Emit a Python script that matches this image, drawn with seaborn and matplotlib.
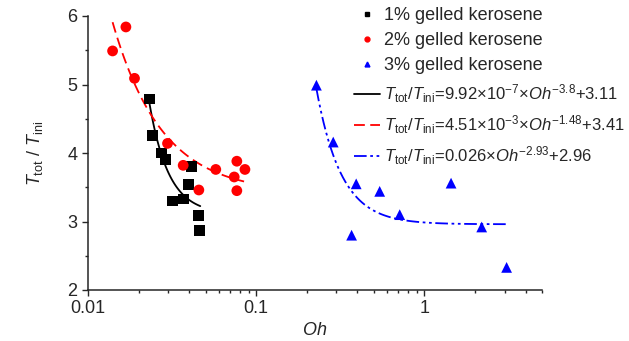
import numpy as np
import pandas as pd
import matplotlib.pyplot as plt
import seaborn as sns

# measured points
oh_1 = [0.0232, 0.0243, 0.0273, 0.0290, 0.0318, 0.0369, 0.0414, 0.0397, 0.0452, 0.0462]
ratio_1 = [4.79, 4.26, 4.00, 3.91, 3.30, 3.33, 3.80, 3.54, 3.09, 2.87]

oh_2 = [0.0140, 0.0168, 0.0189, 0.0297, 0.0368, 0.0456, 0.0575, 0.0767, 0.0740, 0.0857, 0.0767]
ratio_2 = [5.49, 5.84, 5.09, 4.14, 3.82, 3.46, 3.76, 3.88, 3.65, 3.76, 3.45]

oh_3 = [0.228, 0.287, 0.369, 0.393, 0.542, 0.713, 1.44, 2.19, 3.08]
ratio_3 = [4.99, 4.16, 2.80, 3.55, 3.44, 3.10, 3.56, 2.92, 2.33]

# fit coefficients from the legend: a * Oh^b + c, drawn over range lo..hi
fit_a = [9.92e-7, 4.51e-3, 0.026]
fit_b = [-3.8, -1.48, -2.93]
fit_c = [3.11, 3.41, 2.96]
fit_lo = [0.0232, 0.0140, 0.228]
fit_hi = [0.0465, 0.0847, 3.08]

labels_pts = ['1% gelled kerosene', '2% gelled kerosene', '3% gelled kerosene']
labels_fit = [r'$T_{\rm tot}/T_{\rm ini}$=9.92$\times$10$^{-7}$$\times$$Oh^{-3.8}$+3.11',
              r'$T_{\rm tot}/T_{\rm ini}$=4.51$\times$10$^{-3}$$\times$$Oh^{-1.48}$+3.41',
              r'$T_{\rm tot}/T_{\rm ini}$=0.026$\times$$Oh^{-2.93}$+2.96']
colors = ['black', 'red', 'blue']
markers = ['s', 'o', '^']
dashes = [(None, None), (6, 3), (7, 2, 1.5, 2, 1.5, 2)]

sns.set_style('ticks')
plt.rcParams['font.family'] = ['Liberation Sans', 'DejaVu Sans']
plt.rcParams['mathtext.fontset'] = 'custom'
plt.rcParams['mathtext.rm'] = 'Liberation Sans'
plt.rcParams['mathtext.it'] = 'Liberation Sans:italic'
plt.rcParams['mathtext.bf'] = 'Liberation Sans:bold'

fig = plt.figure(figsize=(6.29, 3.41), dpi=100)
ax = fig.add_axes([88 / 629, 51 / 341, 454 / 629, 274 / 341])

pts = [(oh_1, ratio_1), (oh_2, ratio_2), (oh_3, ratio_3)]
pt_handles = []
for (xs, ys), col, mk in zip(pts, colors, markers):
    df = pd.DataFrame({'Oh': xs, 'ratio': ys})
    sns.scatterplot(data=df, x='Oh', y='ratio', color=col, marker=mk, s=60,
                    edgecolor='none', ax=ax, zorder=3)
    pt_handles.append(plt.Line2D([], [], color=col, marker=mk, linestyle='none',
                                 markersize=3.5))

line_handles = []
for i in range(3):
    xs = np.geomspace(fit_lo[i], fit_hi[i], 80)
    df = pd.DataFrame({'Oh': xs, 'ratio': fit_a[i] * xs ** fit_b[i] + fit_c[i]})
    sns.lineplot(data=df, x='Oh', y='ratio', color=colors[i], linewidth=1.3, ax=ax)
    ln = ax.get_lines()[-1]
    if dashes[i][0] is not None:
        ln.set_dashes(dashes[i])
    h = plt.Line2D([], [], color=colors[i], linewidth=1.3)
    if dashes[i][0] is not None:
        h.set_dashes(dashes[i])
    line_handles.append(h)

ax.set_xscale('log')
ax.set_xlim(0.01, 5)
ax.set_ylim(2, 6)
ax.set_yticks([2, 3, 4, 5, 6])
ax.set_yticks(np.arange(2.5, 6, 1), minor=True)
ax.set_xticks([0.01, 0.1, 1])
ax.set_xticklabels(['0.01', '0.1', '1'])
ax.tick_params(axis='both', which='major', labelsize=13, length=4, width=1, direction='out')
ax.tick_params(axis='both', which='minor', length=2.5, width=1, direction='out')
for s in ['left', 'bottom']:
    ax.spines[s].set_linewidth(1.1)
sns.despine(ax=ax)

ax.set_xlabel(r'$Oh$', fontsize=13, labelpad=3)
ax.set_ylabel(r'$T_{\rm tot}$ / $T_{\rm ini}$', fontsize=13, labelpad=16)

leg = fig.legend(pt_handles + line_handles, labels_pts + labels_fit,
                 loc='upper left', bbox_to_anchor=(352 / 629, 1 - 5 / 341),
                 frameon=False, fontsize=12, handlelength=1.6, handletextpad=0.2,
                 labelspacing=0.5, borderpad=0.1, borderaxespad=0)
for t in leg.get_texts()[:3]:
    t.set_fontsize(13)

fig.savefig('out.png', dpi=100)
